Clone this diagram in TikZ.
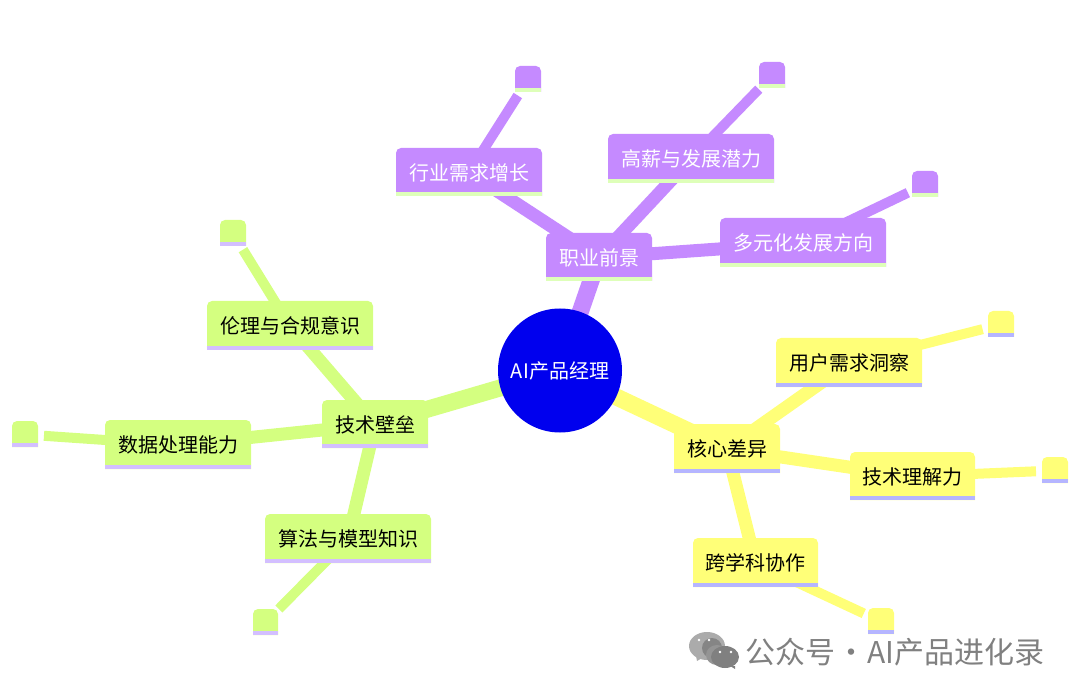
\documentclass[tikz,border=0pt]{standalone}
\usepackage{fontspec}
\setmainfont{Noto Sans CJK SC}
\usetikzlibrary{calc}
\pgfdeclarelayer{edges}
\pgfsetlayers{edges,main}
\definecolor{pu}{HTML}{C58AFF}
\definecolor{pustrip}{HTML}{DEFFB9}
\definecolor{gr}{HTML}{D4FF80}
\definecolor{grstrip}{HTML}{D3BFFF}
\definecolor{ye}{HTML}{FFFF78}
\definecolor{yestrip}{HTML}{B5B5FF}
\definecolor{rootblue}{HTML}{0000EE}
\tikzset{
  mmtext/.style={inner sep=0pt,font=\fontsize{20}{24}\selectfont},
  rootnode/.style={circle,fill=rootblue,minimum size=124pt,inner sep=0pt,text=white,font=\fontsize{20}{24}\selectfont},
  edgeA/.style={line width=17pt},
  edgeB/.style={line width=13pt},
  edgeC/.style={line width=10pt,shorten >=19pt},
}
% name, x0, y0, x1, y1, fill, strip, text colour, text
\newcommand{\mmbox}[9]{%
  \fill[#6] (#2,#5) [rounded corners=5pt] -- (#2,#3) -- (#4,#3) [sharp corners] -- (#4,#5) -- cycle;
  \fill[#7] (#2,#5-4) rectangle (#4,#5);
  \node[mmtext,text=#8,minimum width={(#4-#2)*1pt},minimum height={(#5-#3)*1pt}] (#1) at ({(#2+#4)/2},{(#3+#5)/2+0.5}) {#9};
}
\begin{document}
\begin{tikzpicture}[x=1pt,y=-1pt]
\useasboundingbox (0,0) rectangle (1080,695);
% purple
\mmbox{career}{546}{233}{652}{281}{pu}{pustrip}{white}{职业前景}
\mmbox{demand}{396}{148}{542}{196}{pu}{pustrip}{white}{行业需求增长}
\mmbox{salary}{608}{134}{774}{183}{pu}{pustrip}{white}{高薪与发展潜力}
\mmbox{multi}{720}{218}{886}{267}{pu}{pustrip}{white}{多元化发展方向}
\mmbox{leafpa}{515}{66}{541}{92}{pu}{pustrip}{white}{}
\mmbox{leafpb}{759}{62}{785}{88}{pu}{pustrip}{white}{}
\mmbox{leafpc}{912}{171}{938}{197}{pu}{pustrip}{white}{}
% green
\mmbox{tech}{322}{400}{428}{448}{gr}{grstrip}{black}{技术壁垒}
\mmbox{ethics}{207}{301}{373}{350}{gr}{grstrip}{black}{伦理与合规意识}
\mmbox{data}{105}{420}{251}{469}{gr}{grstrip}{black}{数据处理能力}
\mmbox{algo}{265}{514}{431}{563}{gr}{grstrip}{black}{算法与模型知识}
\mmbox{leafga}{220}{220}{246}{246}{gr}{grstrip}{black}{}
\mmbox{leafgb}{12}{421}{38}{447}{gr}{grstrip}{black}{}
\mmbox{leafgc}{253}{609}{278}{635}{gr}{grstrip}{black}{}
% yellow
\mmbox{core}{674}{424}{780}{473}{ye}{yestrip}{black}{核心差异}
\mmbox{user}{776}{338}{922}{387}{ye}{yestrip}{black}{用户需求洞察}
\mmbox{grasp}{850}{452}{975}{500}{ye}{yestrip}{black}{技术理解力}
\mmbox{cross}{693}{538}{818}{587}{ye}{yestrip}{black}{跨学科协作}
\mmbox{leafya}{988}{311}{1014}{337}{ye}{yestrip}{black}{}
\mmbox{leafyb}{1042}{457}{1068}{483}{ye}{yestrip}{black}{}
\mmbox{leafyc}{868}{608}{894}{634}{ye}{yestrip}{black}{}
% root
\node[rootnode] (root) at (560,370.5) {AI产品经理};
\begin{pgfonlayer}{edges}
\draw[pu,edgeA] (root.center) -- (career.center);
\draw[pu,edgeB] (career.center) -- (demand.center);
\draw[pu,edgeB] (career.center) -- (salary.center);
\draw[pu,edgeB] (career.center) -- (multi.center);
\draw[pu,edgeC] (demand.center) -- (leafpa.center);
\draw[pu,edgeC] (salary.center) -- (leafpb.center);
\draw[pu,edgeC] (multi.center) -- (leafpc.center);
\draw[gr,edgeA] (root.center) -- (tech.center);
\draw[gr,edgeB] (tech.center) -- (ethics.center);
\draw[gr,edgeB] (tech.center) -- (data.center);
\draw[gr,edgeB] (tech.center) -- (algo.center);
\draw[gr,edgeC] (ethics.center) -- (leafga.center);
\draw[gr,edgeC] (data.center) -- (leafgb.center);
\draw[gr,edgeC] (algo.center) -- (leafgc.center);
\draw[ye,edgeA] (root.center) -- (core.center);
\draw[ye,edgeB] (core.center) -- (user.center);
\draw[ye,edgeB] (core.center) -- (grasp.center);
\draw[ye,edgeB] (core.center) -- (cross.center);
\draw[ye,edgeC] (user.center) -- (leafya.center);
\draw[ye,edgeC] (grasp.center) -- (leafyb.center);
\draw[ye,edgeC] (cross.center) -- (leafyc.center);
\end{pgfonlayer}
% watermark
\fill[black!33] (707,646) ellipse [x radius=18,y radius=14];
\fill[black!33] (696,656) -- (702,658) -- (697,661) -- cycle;
\fill[black!48] (712,648) circle (10);
\fill[black!42] (717,655) ellipse [x radius=11,y radius=10];
\fill[black!50] (725,657) ellipse [x radius=14,y radius=11];
\fill[black!50] (730,666) -- (735,666) -- (735,669) -- cycle;
\fill[white] (699,640) circle (1.3) (709,640) circle (1.3) (720,652) circle (1.3) (731,652) circle (1.3);
\node[inner sep=0pt,anchor=west,text=black!50,font=\fontsize{30}{32}\selectfont] (mark) at (745,652) {公众号\kern1pt·\kern1pt AI产品进化录};
\end{tikzpicture}
\end{document}
